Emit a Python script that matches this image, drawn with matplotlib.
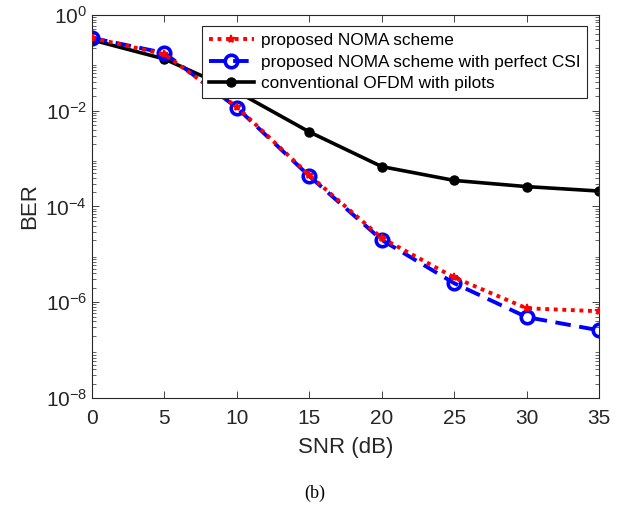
"""
BER vs SNR, NOMA vs conventional OFDM
"""

import numpy as np
import matplotlib.pyplot as plt
from matplotlib.ticker import LogLocator, NullFormatter

plt.rcParams['font.family'] = ['Liberation Sans', 'DejaVu Sans']
plt.rcParams['mathtext.fontset'] = 'custom'
plt.rcParams['mathtext.rm'] = 'Liberation Sans'

# Data
snr_db = [0, 5, 10, 15, 20, 25, 30, 35]
ber_noma = [0.33, 0.15, 0.012, 4.5e-4, 2.2e-5, 3.3e-6, 7.5e-7, 6.5e-7]
ber_noma_csi = [0.33, 0.16, 0.0115, 4.3e-4, 2.0e-5, 2.5e-6, 4.9e-7, 2.6e-7]
ber_ofdm = [0.30, 0.12, 0.025, 3.6e-3, 6.8e-4, 3.5e-4, 2.6e-4, 2.1e-4]

labels = ['proposed NOMA scheme',
          'proposed NOMA scheme with perfect CSI',
          'conventional OFDM with pilots']


fig = plt.figure(figsize=(6.26, 5.13), dpi=100)
ax = fig.add_axes([0.147, 0.224, 0.81, 0.747])

ax.plot(snr_db, ber_noma, color='red', linestyle=(0, (1, 1.2)), linewidth=2.8,
        marker='*', markersize=6, markeredgewidth=1.2, label=labels[0], zorder=3)
ax.plot(snr_db, ber_noma_csi, color='blue', linestyle=(0, (4, 2.2)), linewidth=2.8,
        marker='o', markersize=9, markerfacecolor='none', markeredgewidth=2.6,
        label=labels[1], zorder=2)
ax.plot(snr_db, ber_ofdm, color='black', linestyle='-', linewidth=2.6,
        marker='o', markersize=6.5, label=labels[2], zorder=1)

ax.set_yscale('log')
ax.set_xlim(0, 35)
ax.set_ylim(1e-8, 1)
ax.set_xticks(range(0, 36, 5))
ax.set_yticks([1e-8, 1e-6, 1e-4, 1e-2, 1e0])
ax.yaxis.set_minor_locator(LogLocator(base=10, subs=np.arange(2, 10), numticks=20))
ax.yaxis.set_minor_formatter(NullFormatter())

ax.tick_params(which='both', direction='in', top=True, right=True,
               labelsize=15, colors='#262626')
ax.tick_params(which='major', length=5, width=0.6)
ax.tick_params(which='minor', length=3, width=0.5)
ax.tick_params(axis='x', pad=8)
for s in ax.spines.values():
    s.set_linewidth(0.8)
    s.set_color('#262626')

ax.set_xlabel('SNR (dB)', fontsize=16, color='#262626', labelpad=6)
ax.set_ylabel('BER', fontsize=16, color='#262626', labelpad=4)

leg = ax.legend(loc='upper right', bbox_to_anchor=(0.976, 0.971), fontsize=12.4,
                handlelength=2.6, handletextpad=0.4, labelspacing=0.38,
                borderpad=0.4, borderaxespad=0.0, fancybox=False, framealpha=1)
leg.get_frame().set_edgecolor('#262626')
leg.get_frame().set_linewidth(0.8)

fig.text(0.502, 0.03, '(b)', fontsize=13, family='Liberation Serif', ha='center')

fig.savefig('out.png', dpi=100)
